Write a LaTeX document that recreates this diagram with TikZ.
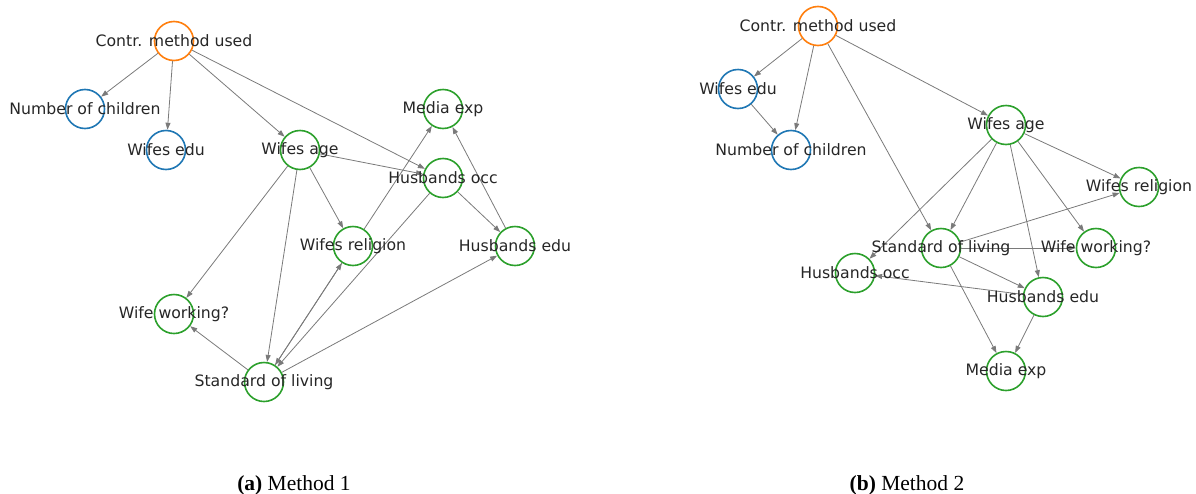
\documentclass[tikz,border=0pt]{standalone}
\usepackage{fontspec}
\setmainfont{DejaVu Sans}
\newfontfamily\capfont{Liberation Serif}
\usetikzlibrary{arrows.meta}
\definecolor{corange}{HTML}{FF7F0E}
\definecolor{cblue}{HTML}{1F77B4}
\definecolor{cgreen}{HTML}{2CA02C}
\definecolor{txtgray}{HTML}{262626}
\definecolor{edgegray}{HTML}{7A7A7A}
\begin{document}
\begin{tikzpicture}[x=1pt,y=-1pt,
  vtx/.style={circle, draw, line width=1.6pt, minimum size=39pt, inner sep=0pt, fill=white},
  root/.style={vtx, draw=corange},
  pre/.style={vtx, draw=cblue},
  post/.style={vtx, draw=cgreen},
  lab/.style={text=txtgray, font=\fontsize{15.7}{18}\selectfont, inner sep=0pt},
  edge/.style={draw=edgegray, line width=0.8pt, -{Triangle[length=7pt,width=5pt]}},
  subcap/.style={font=\capfont\fontsize{21.5}{24}\selectfont, anchor=base, inner sep=0pt}]
\useasboundingbox (0,0) rectangle (1196,493);

% ---------- left graph ----------
\node[root] (a-cm)  at (174,41)  {};
\node[pre]  (a-nc)  at (85,109)  {};
\node[pre]  (a-we)  at (166,150) {};
\node[post] (a-wa)  at (300,150) {};
\node[post] (a-me)  at (443,109) {};
\node[post] (a-ho)  at (443,178) {};
\node[post] (a-wr)  at (353,246) {};
\node[post] (a-he)  at (515,246) {};
\node[post] (a-ww)  at (174,314) {};
\node[post] (a-sl)  at (264,382) {};

\draw[edge] (a-cm) -- (a-nc);
\draw[edge] (a-cm) -- (a-we);
\draw[edge] (a-cm) -- (a-wa);
\draw[edge] (a-cm) -- (a-ho);
\draw[edge] (a-wa) -- (a-ho);
\draw[edge] (a-wa) -- (a-wr);
\draw[edge] (a-wa) -- (a-ww);
\draw[edge] (a-wa) -- (a-sl);
\draw[edge] (a-wr) -- (a-me);
\draw[edge] (a-he) -- (a-me);
\draw[edge] (a-ho) -- (a-he);
\draw[edge] (a-ho) -- (a-sl);
\draw[edge] (a-wr) -- (a-sl);
\draw[edge] (a-sl) -- (a-wr);
\draw[edge] (a-sl) -- (a-ww);
\draw[edge] (a-sl) -- (a-he);

\node[lab] (a-cm-t) at (a-cm) {Contr. method used};
\node[lab] (a-nc-t) at (a-nc) {Number of children};
\node[lab] (a-we-t) at (a-we) {Wifes edu};
\node[lab] (a-wa-t) at (a-wa) {Wifes age};
\node[lab] (a-me-t) at (a-me) {Media exp};
\node[lab] (a-ho-t) at (a-ho) {Husbands occ};
\node[lab] (a-wr-t) at (a-wr) {Wifes religion};
\node[lab] (a-he-t) at (a-he) {Husbands edu};
\node[lab] (a-ww-t) at (a-ww) {Wife working?};
\node[lab] (a-sl-t) at (a-sl) {Standard of living};

% ---------- right graph ----------
\node[root] (b-cm)  at (818,26)   {};
\node[pre]  (b-we)  at (738,89)   {};
\node[pre]  (b-nc)  at (791,150)  {};
\node[post] (b-wa)  at (1006,125) {};
\node[post] (b-wr)  at (1139,187) {};
\node[post] (b-sl)  at (941,248)  {};
\node[post] (b-ww)  at (1096,248) {};
\node[post] (b-ho)  at (855,273)  {};
\node[post] (b-he)  at (1043,297) {};
\node[post] (b-me)  at (1006,371) {};

\draw[edge] (b-cm) -- (b-we);
\draw[edge] (b-cm) -- (b-nc);
\draw[edge] (b-cm) -- (b-sl);
\draw[edge] (b-cm) -- (b-wa);
\draw[edge] (b-we) -- (b-nc);
\draw[edge] (b-wa) -- (b-wr);
\draw[edge] (b-wa) -- (b-sl);
\draw[edge] (b-wa) -- (b-ww);
\draw[edge] (b-wa) -- (b-he);
\draw[edge] (b-wa) -- (b-ho);
\draw[edge] (b-sl) -- (b-wr);
\draw[edge] (b-sl) -- (b-ww);
\draw[edge] (b-sl) -- (b-he);
\draw[edge] (b-sl) -- (b-me);
\draw[edge] (b-he) -- (b-me);
\draw[edge] (b-he) -- (b-ho);

\node[lab] (b-cm-t) at (b-cm) {Contr. method used};
\node[lab] (b-we-t) at (b-we) {Wifes edu};
\node[lab] (b-nc-t) at (b-nc) {Number of children};
\node[lab] (b-wa-t) at (b-wa) {Wifes age};
\node[lab] (b-wr-t) at (b-wr) {Wifes religion};
\node[lab] (b-sl-t) at (b-sl) {Standard of living};
\node[lab] (b-ww-t) at (b-ww) {Wife working?};
\node[lab] (b-ho-t) at (b-ho) {Husbands occ};
\node[lab] (b-he-t) at (b-he) {Husbands edu};
\node[lab] (b-me-t) at (b-me) {Media exp};

% ---------- captions ----------
\node[subcap] (cap-a) at (294,490) {\textbf{(a)} Method 1};
\node[subcap] (cap-b) at (907,490) {\textbf{(b)} Method 2};
\end{tikzpicture}
\end{document}
